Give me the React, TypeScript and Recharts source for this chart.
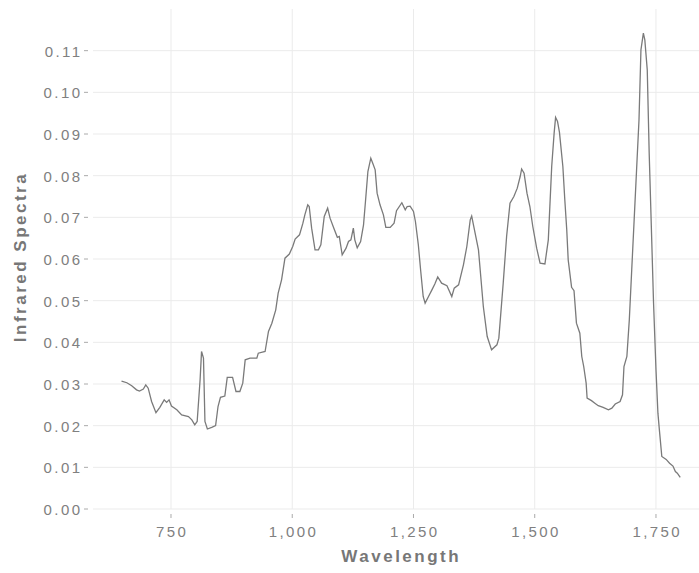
import React from 'react';
import { LineChart, Line, XAxis, YAxis, CartesianGrid } from 'recharts';

// wavelength (nm) and absorbance readings of the spectrum
const wavelength = [
  648, 659, 669, 679, 685, 693, 698, 703, 710, 719, 727, 736, 741, 746, 751, 762, 772, 786, 793, 799,
  804, 810, 813, 817, 820, 825, 834, 842, 847, 852, 861, 866, 877, 884, 892, 898, 903, 913, 927, 930,
  944, 951, 958, 966, 971, 978, 985, 994, 1001, 1006, 1015, 1022, 1026, 1032, 1035, 1040, 1047, 1054, 1059, 1066,
  1073, 1078, 1085, 1093, 1097, 1103, 1111, 1116, 1121, 1126, 1129, 1134, 1141, 1147, 1151, 1156, 1162, 1166, 1171, 1175,
  1181, 1188, 1193, 1202, 1210, 1215, 1226, 1233, 1237, 1243, 1250, 1254, 1260, 1265, 1270, 1274, 1281, 1288, 1294, 1300,
  1308, 1319, 1329, 1334, 1343, 1353, 1360, 1367, 1370, 1375, 1384, 1394, 1402, 1411, 1422, 1426, 1435, 1442, 1449, 1457,
  1464, 1470, 1473, 1478, 1484, 1490, 1496, 1504, 1511, 1521, 1528, 1535, 1540, 1543, 1547, 1551, 1558, 1562, 1566, 1569,
  1576, 1581, 1586, 1593, 1597, 1601, 1606, 1608, 1617, 1624, 1631, 1641, 1652, 1659, 1666, 1676, 1681, 1684, 1690, 1695,
  1700, 1705, 1710, 1715, 1719, 1724, 1727, 1732, 1736, 1741, 1745, 1750, 1754, 1757, 1762, 1771, 1778, 1785, 1790, 1794,
  1800,
];

const absorbance = [
  0.0307, 0.0303, 0.0296, 0.0286, 0.0283, 0.0288, 0.0298, 0.029, 0.0258, 0.0231, 0.0244, 0.0262, 0.0256, 0.0262, 0.0247, 0.0238, 0.0226, 0.0222, 0.0214, 0.0202,
  0.021, 0.031, 0.0378, 0.0362, 0.021, 0.0192, 0.0196, 0.02, 0.0246, 0.0268, 0.0271, 0.0316, 0.0316, 0.0282, 0.0282, 0.0302, 0.0358, 0.0362, 0.0362, 0.0374,
  0.0378, 0.0426, 0.0446, 0.0478, 0.0518, 0.055, 0.0602, 0.0612, 0.063, 0.0648, 0.0658, 0.0686, 0.0706, 0.073, 0.0726, 0.0674, 0.0622, 0.0622, 0.0634, 0.0702,
  0.0722, 0.0698, 0.0676, 0.0652, 0.0654, 0.061, 0.0626, 0.0642, 0.0646, 0.0674, 0.0646, 0.0627, 0.0642, 0.0682, 0.0738, 0.081, 0.0842, 0.083, 0.0814, 0.0758,
  0.073, 0.0706, 0.0676, 0.0676, 0.0686, 0.0716, 0.0735, 0.0718, 0.0726, 0.0727, 0.0714, 0.069, 0.0634, 0.057, 0.051, 0.0494, 0.051, 0.0526, 0.054, 0.0557,
  0.0542, 0.0536, 0.051, 0.053, 0.0538, 0.0586, 0.063, 0.0694, 0.0703, 0.0674, 0.0622, 0.0486, 0.0414, 0.0382, 0.0394, 0.041, 0.0542, 0.0654, 0.0734, 0.075,
  0.077, 0.0798, 0.0816, 0.0806, 0.0758, 0.0726, 0.0678, 0.0626, 0.059, 0.0588, 0.0646, 0.0822, 0.0902, 0.094, 0.093, 0.0904, 0.0822, 0.0742, 0.067, 0.0598,
  0.0532, 0.0524, 0.0446, 0.0422, 0.0366, 0.0342, 0.0302, 0.0266, 0.026, 0.0254, 0.0248, 0.0244, 0.0238, 0.0242, 0.0252, 0.0258, 0.0274, 0.0342, 0.0366, 0.0454,
  0.0574, 0.0694, 0.0814, 0.0934, 0.1102, 0.1142, 0.1126, 0.1054, 0.0854, 0.0654, 0.0494, 0.0334, 0.023, 0.019, 0.0126, 0.0119, 0.011, 0.0103, 0.009, 0.0086,
  0.0076,
];

const xTicks = [750, 1000, 1250, 1500, 1750];
const yTicks = [0, 0.01, 0.02, 0.03, 0.04, 0.05, 0.06, 0.07, 0.08, 0.09, 0.1, 0.11];

const X_DOMAIN: [number, number] = [589.2, 1838.7];
const Y_DOMAIN: [number, number] = [0, 0.12];

const spectrum = wavelength.map((w, i) => ({ wavelength: w, value: absorbance[i] }));

const FONT = '"Liberation Sans", Arial, Helvetica, sans-serif';
const TICK_COLOR = '#808080';
const TITLE_COLOR = '#777777';
const SPACING = 2.4;

function XTick(props: any) {
  const { x, y, payload } = props;
  return (
    <g>
      <line x1={x} x2={x} y1={y + 5} y2={y + 9} stroke="#aaaaaa" strokeWidth={1} />
      <text
        x={x + SPACING / 2}
        y={y + 28}
        textAnchor="middle"
        fill={TICK_COLOR}
        fontSize={15}
        fontFamily={FONT}
        letterSpacing={SPACING}
      >
        {payload.value.toLocaleString('en-US')}
      </text>
    </g>
  );
}

function YTick(props: any) {
  const { x, y, payload } = props;
  return (
    <g>
      <line x1={x - 9} x2={x - 5} y1={y} y2={y} stroke="#aaaaaa" strokeWidth={1} />
      <text
        x={x - 13 + SPACING}
        y={y + 6}
        textAnchor="end"
        fill={TICK_COLOR}
        fontSize={15}
        fontFamily={FONT}
        letterSpacing={SPACING}
      >
        {payload.value.toFixed(2)}
      </text>
    </g>
  );
}

// grid lines only at the tick values, no frame around the panel
const PLOT = { top: 9, left: 93, width: 606, height: 500 };
const gridY = (props: any) => {
  const o = props?.offset ?? PLOT;
  return yTicks.map(
    (t) => o.top + o.height * (1 - (t - Y_DOMAIN[0]) / (Y_DOMAIN[1] - Y_DOMAIN[0]))
  );
};
const gridX = (props: any) => {
  const o = props?.offset ?? PLOT;
  return xTicks.map(
    (t) => o.left + (o.width * (t - X_DOMAIN[0])) / (X_DOMAIN[1] - X_DOMAIN[0])
  );
};

export default function App() {
  return (
    <div style={{ position: 'absolute', left: 0, top: 0, background: '#fff' }}>
      <LineChart
        width={699}
        height={573}
        data={spectrum}
        margin={{ top: 9, right: 0, bottom: 0, left: 0 }}
      >
        <CartesianGrid
          stroke="#ebebeb"
          strokeWidth={1}
          horizontalCoordinatesGenerator={gridY}
          verticalCoordinatesGenerator={gridX}
        />
        <XAxis
          dataKey="wavelength"
          type="number"
          domain={X_DOMAIN}
          ticks={xTicks}
          allowDataOverflow
          height={64}
          axisLine={false}
          tickLine={false}
          tickSize={0}
          tickMargin={0}
          tick={<XTick />}
          interval={0}
        />
        <YAxis
          type="number"
          domain={Y_DOMAIN}
          ticks={yTicks}
          allowDataOverflow
          width={93}
          axisLine={false}
          tickLine={false}
          tickSize={0}
          tickMargin={0}
          tick={<YTick />}
          interval={0}
        />
        <Line
          type="linear"
          dataKey="value"
          stroke="#7a7a7a"
          strokeWidth={1.3}
          dot={false}
          isAnimationActive={false}
        />
        <text
          x={400 + 1.25}
          y={562}
          textAnchor="middle"
          fill={TITLE_COLOR}
          fontSize={17}
          fontWeight="bold"
          fontFamily={FONT}
          letterSpacing={2.5}
        >
          Wavelength
        </text>
        <text
          x={26}
          y={257}
          transform="rotate(-90 26 257)"
          textAnchor="middle"
          fill={TITLE_COLOR}
          fontSize={17}
          fontWeight="bold"
          fontFamily={FONT}
          letterSpacing={2.5}
        >
          Infrared Spectra
        </text>
      </LineChart>
    </div>
  );
}
